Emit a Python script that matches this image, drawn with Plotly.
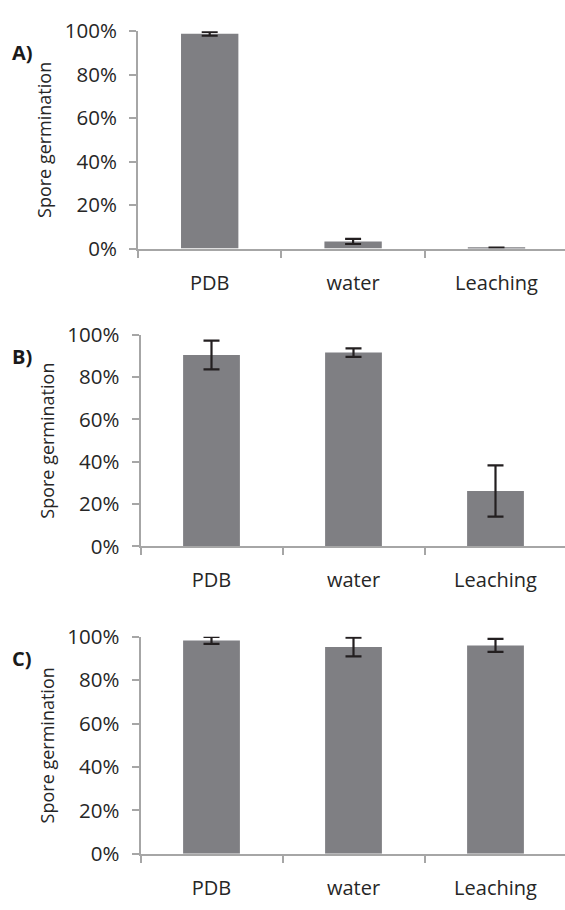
import plotly.graph_objects as go

categories = ["PDB", "water", "Leaching"]
panel_labels = ["A)", "B)", "C)"]

a_values = [0.988, 0.033, 0.005]
a_errors = [0.009, 0.012, 0.0]
b_values = [0.905, 0.916, 0.262]
b_errors = [0.068, 0.020, 0.121]
c_values = [0.983, 0.953, 0.960]
c_errors = [0.016, 0.043, 0.030]

y_tickvals = [0, 0.2, 0.4, 0.6, 0.8, 1.0]
y_ticktext = ["0%", "20%", "40%", "60%", "80%", "100%"]

W, H = 565, 910
FONT = "Open Sans"
AXIS_COLOR = "#a6a6a6"
BAR_COLOR = "#7f7f83"
ERR_COLOR = "#231f20"
TEXT_COLOR = "#262626"

# panel geometry in pixels: (y-axis x, category spacing, y of 100%, y of 0%)
panels = [
    (138.0, 143.4, 16.7, 241.0),
    (140.5, 142.0, 330.0, 548.3),
    (140.5, 142.0, 641.5, 865.5),
]
series = [(a_values, a_errors), (b_values, b_errors), (c_values, c_errors)]

fig = go.Figure()
for i, ((vals, errs), (x0, spacing, ytop, ybot)) in enumerate(zip(series, panels)):
    n = i + 1
    xa = "x" if n == 1 else f"x{n}"
    ya = "y" if n == 1 else f"y{n}"
    fig.add_trace(go.Bar(
        x=categories, y=vals, xaxis=xa, yaxis=ya, width=0.4,
        marker=dict(color=BAR_COLOR, line=dict(width=0)),
        error_y=dict(type="data", array=errs, visible=True,
                     color=ERR_COLOR, thickness=2.2, width=8),
        showlegend=False, hoverinfo="skip",
    ))
    width_px = W - x0
    xr = width_px / spacing - 0.5
    xkey = "xaxis" if n == 1 else f"xaxis{n}"
    ykey = "yaxis" if n == 1 else f"yaxis{n}"
    fig.update_layout(**{
        xkey: dict(
            domain=[x0 / W, 1.0], anchor=ya, type="category",
            range=[-0.5, xr], showline=True, linecolor=AXIS_COLOR,
            linewidth=2, ticks="outside", tickson="boundaries",
            ticklen=7, tickwidth=2, tickcolor=AXIS_COLOR,
            showgrid=False, zeroline=False,
            tickfont=dict(family=FONT, size=20, color=TEXT_COLOR),
            ticklabelstandoff=15,
        ),
        ykey: dict(
            domain=[(H - ybot) / H, (H - ytop) / H], anchor=xa,
            range=[0, 1], tickvals=y_tickvals, ticktext=y_ticktext,
            showline=True, linecolor=AXIS_COLOR, linewidth=2,
            ticks="outside", ticklen=7, tickwidth=2, tickcolor=AXIS_COLOR,
            showgrid=False, zeroline=False,
            tickfont=dict(family=FONT, size=20.5, color=TEXT_COLOR),
            ticklabelstandoff=8,
            title=dict(text="Spore germination", standoff=8,
                       font=dict(family=FONT, size=18, color=TEXT_COLOR)),
        ),
    })
    fig.add_annotation(
        x=22 / W, y=(H - (ytop + 22)) / H, xref="paper", yref="paper",
        text=f"<b>{panel_labels[i]}</b>", showarrow=False,
        font=dict(family=FONT, size=20, color="#1a1a1a"),
        xanchor="center", yanchor="middle",
    )

fig.update_layout(
    width=W, height=H, margin=dict(l=0, r=0, t=0, b=0),
    paper_bgcolor="white", plot_bgcolor="white",
    bargap=0.6,
)

fig.write_html("out.html")
